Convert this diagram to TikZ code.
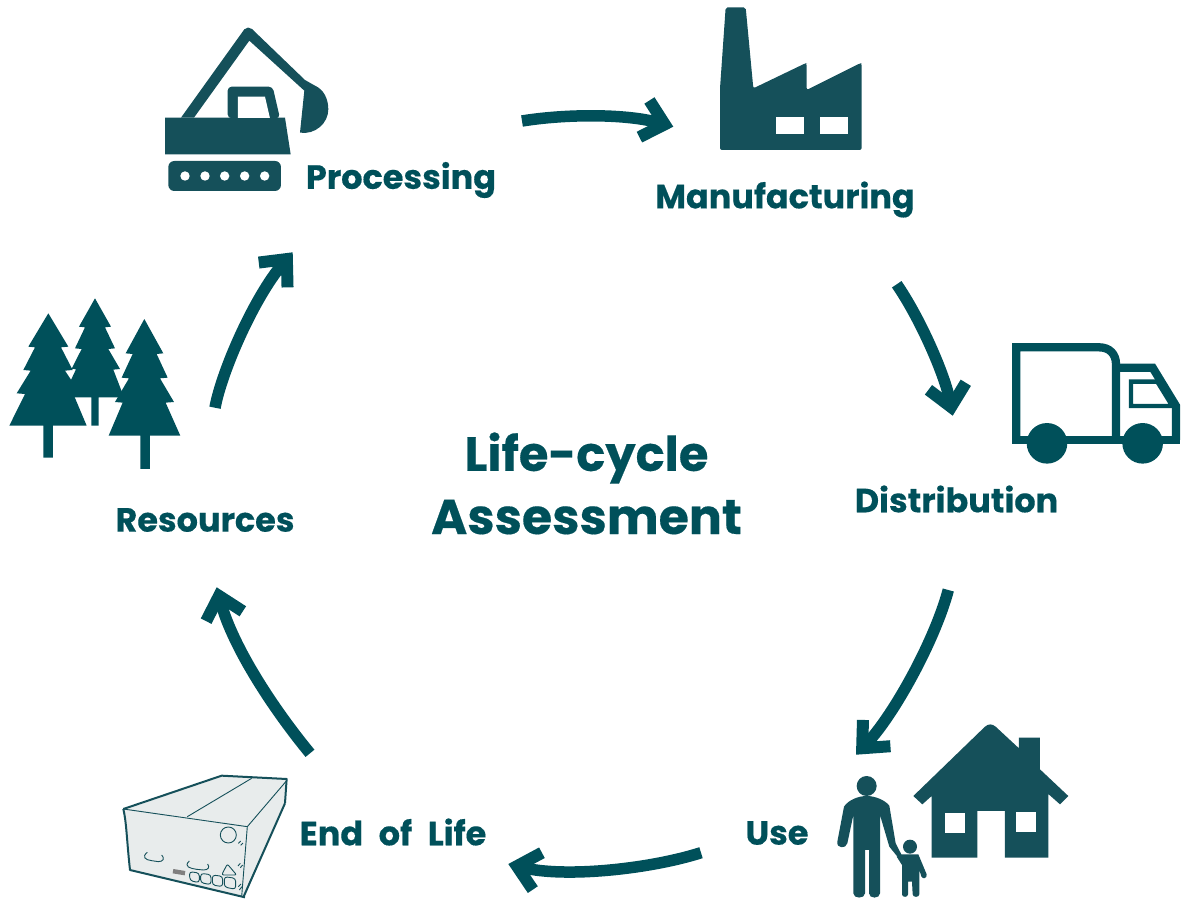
\documentclass[tikz,border=0pt]{standalone}
\usepackage{fontspec}
\setmainfont{Poppins}[BoldFont={Poppins Bold},BoldFeatures={FakeBold=0.35}]
\usetikzlibrary{arrows.meta}
\definecolor{teal1}{HTML}{00505A}
\definecolor{teal2}{HTML}{15505A}
\definecolor{boxfill}{HTML}{E8ECEC}
\tikzset{
 lbl/.style={text=teal1,font=\bfseries\fontsize{33.5}{38}\selectfont,inner sep=0pt,anchor=center},
 big/.style={text=teal1,font=\bfseries\fontsize{48}{56}\selectfont,inner sep=0pt,anchor=center},
 bigger/.style={text=teal1,font=\bfseries\fontsize{49}{56}\selectfont,inner sep=0pt,anchor=center},
 flow/.style={draw=teal1,line width=11.5pt,-{Straight Barb[length=21pt,width=38pt,line width=12pt]},line cap=butt},
 icon/.style={fill=teal2,draw=none},
 tree/.style={fill=teal1,draw=none},
 zoomed/.style={x=0.3333pt,y=-0.3333pt},
 boxline/.style={draw=teal2,line width=0.9pt},
 boxthick/.style={draw=teal2,line width=2pt,line join=round}
}
\begin{document}
\begin{tikzpicture}[x=1pt,y=-1pt]
\useasboundingbox (0,0) rectangle (1183,899);
% excavator
\begin{scope}[shift={(150,20)},zoomed]
\fill[icon] (93,293) -- (283,28) .. controls (289,21) and (299,21) .. (306,27) -- (465,180) -- (495,197) .. controls (520,208) and (535,235) .. (535,268) .. controls (535,310) and (495,345) .. (450,338) -- (463,212) -- (298,62) -- (132,293) -- cycle;
\fill[icon] (45,293) -- (405,293) -- (422,403) -- (45,403) -- cycle;
\fill[icon,rounded corners=4pt] (233,295) -- (233,200) -- (368,200) -- (390,295) -- cycle;
\fill[white] (264,295) -- (264,230) -- (345,230) -- (360,295) -- cycle;
\fill[icon] (45,293) rectangle (405,300);
\fill[icon,rounded corners=6pt] (55,423) rectangle (393,513);
\foreach \wx in {105,165,224,284,344} \fill[white] (\wx,468) circle (4.7pt);
\end{scope}
% factory
\begin{scope}[shift={(710,0)},zoomed]
\fill[icon,rounded corners=2pt] (47,22) -- (107,22) -- (130,265) -- (286,190) -- (290,190) -- (290,270) -- (450,190) -- (455,190) -- (455,450) -- (30,450) -- (30,265) -- cycle;
\fill[white] (199,350) rectangle (281,402);
\fill[white] (331,350) rectangle (413,402);
\end{scope}
% truck
\begin{scope}[shift={(1000,330)},zoomed]
\draw[teal1,line width=8.3pt,line join=miter] (49,330) -- (49,52) -- (298,52) .. controls (328,52) and (348,72) .. (348,102) -- (348,330);
\draw[teal1,line width=8.3pt,line join=miter] (348,113) -- (458,113) -- (528,228) -- (528,330);
\draw[teal1,line width=8.3pt] (37,330) -- (540,330);
\draw[teal1,line width=4.4pt,line join=miter] (393,155) -- (472,155) -- (517,228) -- (393,228) -- cycle;
\fill[teal1] (141,340) circle (20.3pt);
\fill[teal1] (428,340) circle (20.3pt);
\end{scope}
% trees
\begin{scope}[shift={(0,290)},zoomed]
\fill[tree] (145,70) -- (205,170) -- (183,172) -- (218,240) -- (195,242) -- (240,310) -- (220,312) -- (260,407) -- (159,407) -- (159,503) -- (130,503) -- (130,407) -- (28,407) -- (75,312) -- (50,310) -- (92,242) -- (70,240) -- (105,172) -- (85,170) -- cycle;
\fill[tree] (285,25) -- (333,110) -- (315,112) -- (345,175) -- (325,177) -- (360,237) -- (340,239) -- (372,322) -- (296,322) -- (296,407) -- (274,407) -- (274,322) -- (220,322) -- (213,270) -- (228,238) -- (215,236) -- (245,177) -- (225,175) -- (255,112) -- (237,110) -- cycle;
\fill[tree] (433,87) -- (490,190) -- (470,192) -- (503,263) -- (480,265) -- (522,336) -- (497,338) -- (541,437) -- (450,437) -- (450,537) -- (421,537) -- (421,437) -- (326,437) -- (368,338) -- (345,336) -- (387,265) -- (365,263) -- (398,192) -- (377,190) -- cycle;
\end{scope}
% house and figures
\begin{scope}[shift={(830,715)},zoomed]
\fill[icon] (250,243) -- (465,35) .. controls (475,26) and (487,26) .. (497,35) -- (567,100) -- (567,68) -- (630,68) -- (630,163) -- (715,243) -- (690,268) -- (655,237) -- (655,428) -- (525,428) -- (525,288) -- (442,288) -- (442,428) -- (305,428) -- (305,243) -- (277,268) -- cycle;
\fill[white] (345,295) rectangle (405,353);
\fill[white] (558,292) rectangle (617,350);
\fill[icon] (110,213) circle (10pt);
\fill[icon] (110,243) .. controls (135,243) and (165,255) .. (178,272) -- (197,385) -- (215,420) -- (208,432) -- (178,395) -- (150,300) -- (150,535) .. controls (150,552) and (117,552) .. (117,535) -- (117,405) -- (105,405) -- (105,535) .. controls (105,552) and (70,552) .. (70,535) -- (70,300) -- (52,385) .. controls (48,403) and (18,400) .. (22,380) -- (42,275) .. controls (55,255) and (85,243) .. (110,243) -- cycle;
\fill[icon] (240,395) circle (7pt);
\fill[icon] (215,418) -- (265,418) -- (290,478) .. controls (292,490) and (278,494) .. (274,484) -- (268,465) -- (268,538) .. controls (268,548) and (248,548) .. (248,538) -- (246,500) -- (234,500) -- (234,538) .. controls (234,548) and (216,548) .. (216,538) -- (216,450) -- (200,425) -- cycle;
\end{scope}
% box
\begin{scope}[shift={(110,760)},zoomed]
\fill[boxfill] (40,147) -- (335,47) -- (530,57) -- (525,130) -- (405,410) -- (60,330) -- (50,200) -- cycle;
\draw[boxthick] (40,147) -- (335,47) -- (530,57) -- (525,130);
\draw[boxthick] (40,147) .. controls (50,190) and (50,240) .. (60,330) -- (405,412);
\draw[boxthick] (525,130) -- (400,412);
\draw[boxline] (40,147) -- (412,200) -- (530,62);
\draw[boxline] (412,200) -- (395,410);
\draw[boxline] (232,170) -- (425,55);
\draw[boxline] (355,225) circle (8pt);
\draw[boxline] (385,250) -- (392,243) (392,256) -- (399,249);
\draw[boxline] (384,318) -- (391,310) (391,323) -- (398,315);
\draw[boxline] (388,390) -- (396,380) (385,380) -- (393,372);
\draw[boxline] (112,277) .. controls (95,290) and (105,300) .. (125,302) -- (145,305) .. controls (160,305) and (165,295) .. (155,285);
\draw[boxline] (238,303) .. controls (220,320) and (240,325) .. (260,328) -- (280,330) .. controls (295,330) and (300,322) .. (293,312);
\draw[boxline,rounded corners=2pt] (335,345) -- (352,312) -- (380,345) -- cycle;
\draw[boxline,rounded corners=3pt] (238,335) -- (268,339) -- (268,368) -- (240,362) -- cycle;
\draw[boxline,rounded corners=3pt] (272,340) -- (303,344) -- (303,374) -- (272,368) -- cycle;
\draw[boxline,rounded corners=3pt] (307,345) -- (338,349) -- (338,380) -- (307,375) -- cycle;
\draw[boxline,rounded corners=3pt] (343,350) -- (377,355) -- (377,388) -- (343,381) -- cycle;
\fill[gray] (190,327) -- (226,333) -- (224,346) -- (188,340) -- cycle;
\end{scope}
% labels
\node[lbl] (proc) at (401,180) {Processing};
\node[lbl] (manu) at (785,199.5) {Manufacturing};
\node[lbl] (dist) at (956.5,499) {Distribution};
\node[lbl] (use) at (777,833) {Use};
\node[lbl] (eol) at (393,832) {End\hspace{8.5pt} of\hspace{8.5pt} Life};
\node[lbl] (res) at (205,520) {Resources};
\node[big] (lc) at (586.5,458) {Life-cycle};
\node[bigger] (as) at (586.5,517) {Assessment};
% connectors
\coordinate (a1) at (522,121); \coordinate (b1) at (673.3,126.7);
\coordinate (a2) at (896.7,284.3); \coordinate (b2) at (952.7,415.7);
\coordinate (a3) at (948.3,590); \coordinate (b3) at (856,754.7);
\coordinate (a4) at (701,852.7); \coordinate (b4) at (508.3,864);
\coordinate (a5) at (310,753.3); \coordinate (b5) at (216.7,587.3);
\coordinate (a6) at (215,407.7); \coordinate (b6) at (292.7,252.3);
\draw[flow] (a1) .. controls (565,114) and (625,113.5) .. (b1);
\draw[flow] (a2) .. controls (920,318) and (945,375) .. (b2);
\draw[flow] (a3) .. controls (935,640) and (894,715) .. (b3);
\draw[flow] (a4) .. controls (650,869) and (565,878) .. (b4);
\draw[flow] (a5) .. controls (275,711) and (233,648) .. (b5);
\draw[flow] (a6) .. controls (222,370) and (255,296) .. (b6);
\end{tikzpicture}
\end{document}
